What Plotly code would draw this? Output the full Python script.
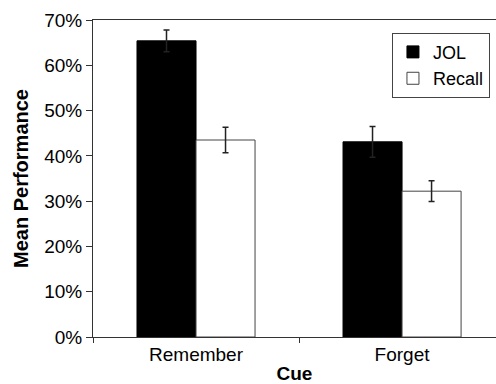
import plotly.graph_objects as go

# Mean performance by cue condition
cues = ["Remember", "Forget"]
jol_mean = [0.654, 0.431]
jol_err = [0.024, 0.034]
recall_mean = [0.435, 0.322]
recall_err = [0.028, 0.023]

FONT = "Liberation Sans, Arial, sans-serif"
AXIS_COLOR = "#333333"

fig = go.Figure()
fig.add_trace(go.Bar(
    name="JOL", x=cues, y=jol_mean, legendgroup="a",
    marker=dict(color="black", line=dict(color="black", width=1)),
    error_y=dict(type="data", array=jol_err, color="#222222", thickness=1.5, width=3),
))
fig.add_trace(go.Bar(
    name="Recall", x=cues, y=recall_mean, legendgroup="b",
    marker=dict(color="white", line=dict(color="#444444", width=1)),
    error_y=dict(type="data", array=recall_err, color="#222222", thickness=1.5, width=3),
))

fig.update_layout(
    width=496, height=384,
    margin=dict(l=93, r=0, t=20, b=47),
    paper_bgcolor="white", plot_bgcolor="white",
    barmode="group", bargap=0.427, bargroupgap=0,
    font=dict(family=FONT, size=18, color="black"),
    showlegend=True,
    legend=dict(
        x=0.985, xanchor="right", y=0.96, yanchor="top",
        bordercolor="#444444", borderwidth=1, bgcolor="white",
        font=dict(family=FONT, size=18), tracegroupgap=0,
    ),
)

fig.update_xaxes(
    type="category", range=[-0.5, 1.456],
    showline=True, linecolor=AXIS_COLOR, linewidth=1, mirror=True,
    ticks="outside", tickson="boundaries", ticklen=5, tickcolor=AXIS_COLOR,
    showgrid=False, zeroline=False,
    tickfont=dict(family=FONT, size=19),
    title=dict(text="<b>Cue</b>", font=dict(family=FONT, size=19), standoff=5),
)
fig.update_yaxes(
    range=[0, 0.70], dtick=0.1, tickformat=".0%",
    showline=True, linecolor=AXIS_COLOR, linewidth=1,
    ticks="outside", ticklen=6, tickcolor=AXIS_COLOR,
    showgrid=False, zeroline=False,
    tickfont=dict(family=FONT, size=19),
    title=dict(text="<b>Mean Performance</b>", font=dict(family=FONT, size=20), standoff=10),
)

fig.write_html("out.html")
